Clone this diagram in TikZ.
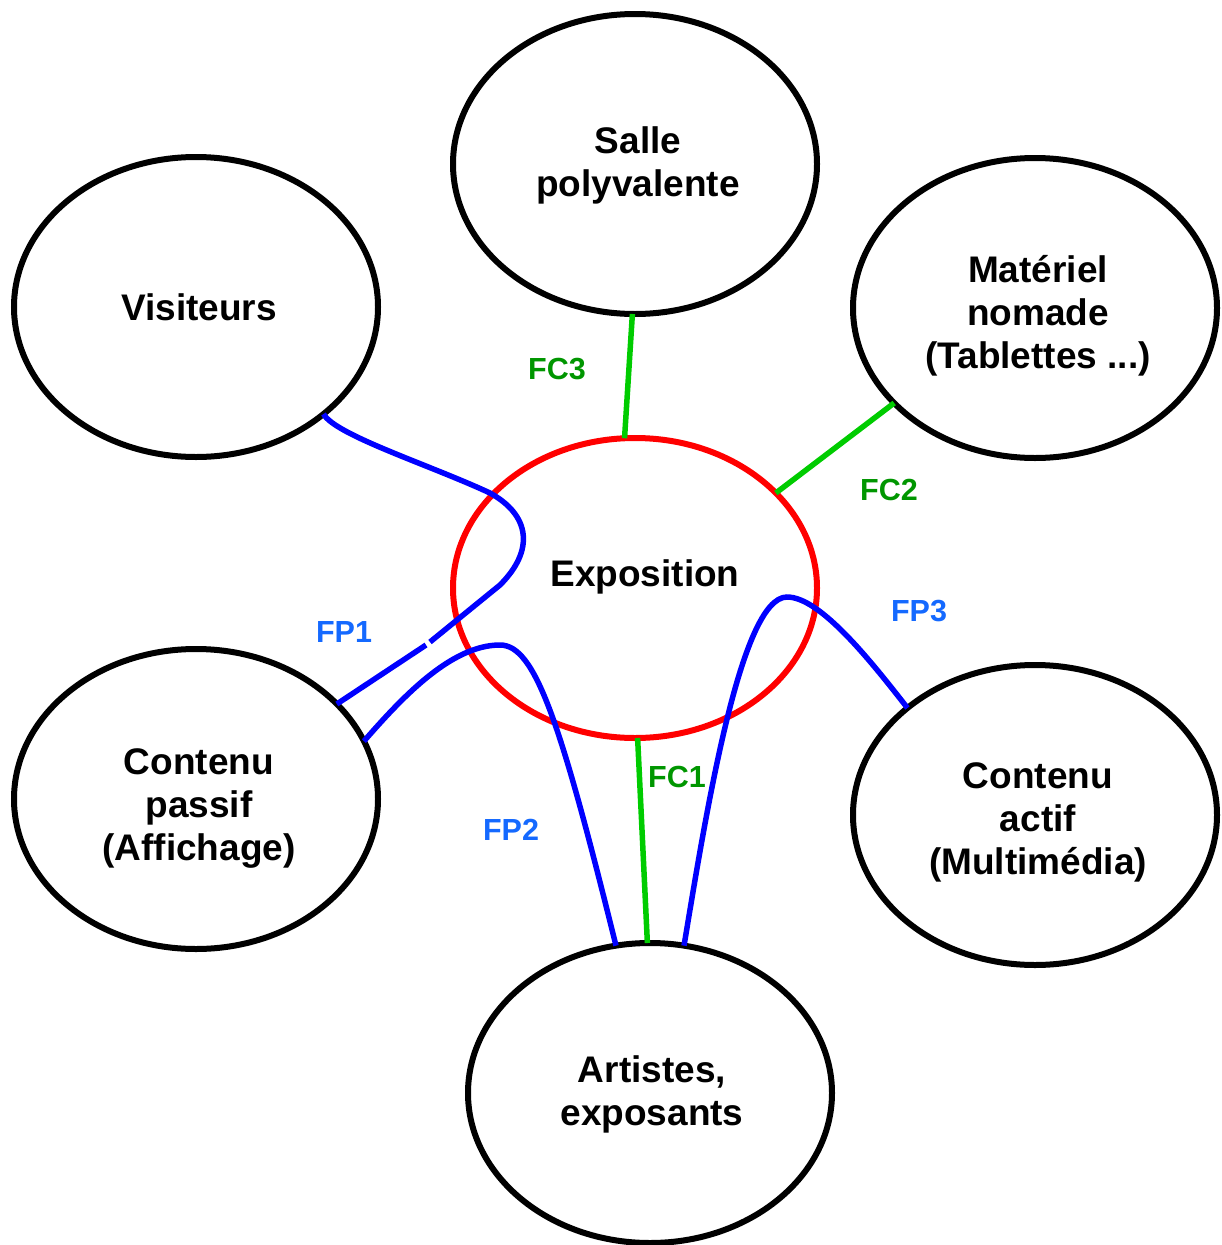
\documentclass[tikz,border=0pt]{standalone}
\usepackage{fontspec}
\setmainfont{Liberation Sans}
\usetikzlibrary{shapes.geometric}
\definecolor{linegreen}{RGB}{0,204,0}
\definecolor{labgreen}{RGB}{0,150,0}
\definecolor{labblue}{RGB}{20,105,255}
\definecolor{lineblue}{RGB}{0,0,255}
\definecolor{exred}{RGB}{255,0,0}
\tikzset{
  bubble/.style={ellipse, draw=black, line width=6pt, minimum width=364pt, minimum height=300pt,
    inner sep=0pt, outer sep=0pt},
  centre/.style={bubble, draw=exred},
  btext/.style={align=center, inner sep=0pt, font=\fontsize{37}{43}\selectfont\bfseries},
  fcline/.style={draw=linegreen, line width=5.5pt},
  fpline/.style={draw=lineblue, line width=5.5pt},
  fclab/.style={text=labgreen, font=\fontsize{30.5}{35}\selectfont\bfseries, inner sep=0pt},
  fplab/.style={text=labblue, font=\fontsize{30.5}{35}\selectfont\bfseries, inner sep=0pt}
}
\begin{document}
\begin{tikzpicture}[x=1pt,y=-1pt]
\useasboundingbox (0,0) rectangle (1221,1245);
% ellipses
\node[bubble] (sal) at (635,164) {};
\node[bubble] (vis) at (196,307) {};
\node[bubble] (mat) at (1035,308) {};
\node[centre] (exp) at (635,588) {};
\node[bubble] (cpa) at (196,799) {};
\node[bubble] (cac) at (1035,815) {};
\node[bubble] (art) at (650,1093) {};
% texts
\node[btext] (salt) at (638,165) {Salle\\polyvalente};
\node[btext] (vist) at (199,307) {Visiteurs};
\node[btext] (matt) at (1038,316) {Matériel\\nomade\\(Tablettes ...)};
\node[btext] (expt) at (645,577) {Exposition};
\node[btext] (cpat) at (199,808) {Contenu\\passif\\(Affichage)};
\node[btext] (cact) at (1038,822) {Contenu\\actif\\(Multimédia)};
\node[btext] (artt) at (652,1094) {Artistes,\\exposants};
% gap coordinates on FP1
\coordinate (g1) at (430,642);
\coordinate (g2) at (426,645);
% FC lines
\draw[fcline] (sal.-91.5) -- (exp.94.5);
\draw[fcline] (mat.214) -- (exp.34.2);
\draw[fcline] (exp.-89.2) -- (art.91.5);
% FP1
\draw[fpline] (vis.-40) .. controls (335,435) and (430,465) .. (490,493)
  .. controls (530,515) and (535,550) .. (500,585) -- (g1);
\draw[fpline] (g2) -- (cpa.34.2);
% FP2
\draw[fpline] (cpa.19.5) .. controls (400,700) and (450,645) .. (500,645)
  .. controls (535,645) and (560,720) .. (art.103.3);
% FP3
\draw[fpline] (art.77) .. controls (705,820) and (740,597) .. (787,597)
  .. controls (820,597) and (870,660) .. (cac.140.1);
% labels
\node[fclab] (lfc3) at (557,369) {FC3};
\node[fclab] (lfc2) at (889,490) {FC2};
\node[fclab] (lfc1) at (677,777) {FC1};
\node[fplab] (lfp1) at (344,632) {FP1};
\node[fplab] (lfp2) at (511,830) {FP2};
\node[fplab] (lfp3) at (919,611) {FP3};
\end{tikzpicture}
\end{document}
